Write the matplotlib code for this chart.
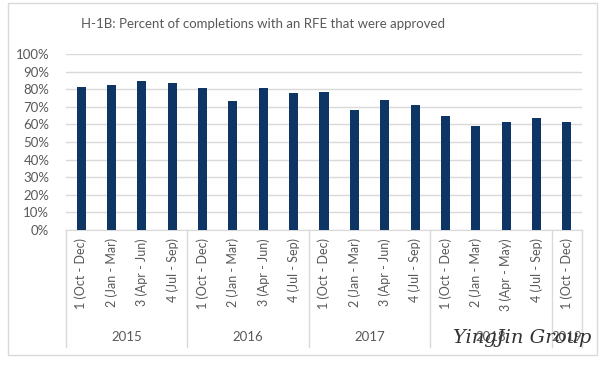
import matplotlib
matplotlib.use("Agg")
from matplotlib import pyplot as plt
from matplotlib.patches import Rectangle
from matplotlib.ticker import PercentFormatter

# Quarter labels and approval rates
quarters = ["1 (Oct - Dec)", "2 (Jan - Mar)", "3 (Apr - Jun)", "4 (Jul - Sep)",
            "1 (Oct - Dec)", "2 (Jan - Mar)", "3 (Apr - Jun)", "4 (Jul - Sep)",
            "1 (Oct - Dec)", "2 (Jan - Mar)", "3 (Apr - Jun)", "4 (Jul - Sep)",
            "1 (Oct - Dec)", "2 (Jan - Mar)", "3 (Apr - May)", "4 (Jul - Sep)",
            "1 (Oct - Dec)"]
approved = [81.5, 82.2, 84.8, 83.5, 80.7, 73.1, 80.7, 78.0, 78.6,
            68.2, 73.7, 71.0, 64.6, 59.1, 61.4, 63.5, 61.4]
years = ["2015", "2016", "2017", "2018", "2019"]
year_sizes = [4, 4, 4, 4, 1]

plt.rcParams['font.family'] = ['Lato', 'DejaVu Sans']
W, H = 601, 368
fig = plt.figure(figsize=(W / 100, H / 100), dpi=100)

# light chart border like the Excel chart area
fig.patches.append(Rectangle((8 / W, 13 / H), 589 / W, 352 / H, transform=fig.transFigure,
                             fill=False, edgecolor='#D9D9D9', linewidth=1))

ax = fig.add_axes([66 / W, 138 / H, (582 - 66) / W, 176 / H])
x = list(range(len(approved)))
ax.bar(x, [v / 100 for v in approved], width=0.3, color='#0E3563', zorder=3)

ax.set_xlim(-0.5, len(approved) - 0.5)
ax.set_ylim(0, 1)
ax.set_yticks([i / 10 for i in range(11)])
ax.yaxis.set_major_formatter(PercentFormatter(1.0, decimals=0))
ax.tick_params(axis='y', length=0, labelsize=9.5, labelcolor='#595959', pad=12)
ax.set_xticks([])
ax.grid(axis='y', color='#D9D9D9', linewidth=1, zorder=0)
for s in ['top', 'right', 'left']:
    ax.spines[s].set_visible(False)
ax.spines['bottom'].set_color('#D9D9D9')

trans = ax.get_xaxis_transform()
# quarter labels
for i, q in enumerate(quarters):
    ax.text(i, -0.045, q, rotation=90, ha='center', va='top', fontsize=9,
            color='#595959', transform=trans)

# year groups with separators
start = 0
bounds = [-0.5]
for yr, n in zip(years, year_sizes):
    ax.text(start + (n - 1) / 2, -0.608, yr, ha='center', va='center', fontsize=9.5,
            color='#595959', transform=trans)
    start += n
    bounds.append(start - 0.5)
for b in bounds:
    ax.plot([b, b], [0, -0.665], color='#D9D9D9', linewidth=1, transform=trans,
            clip_on=False)

fig.text(263 / W, 1 - 24 / H, "H-1B: Percent of completions with an RFE that were approved",
         ha='center', va='center', fontsize=9.5, color='#595959')

# watermark
fig.text(522 / W, 1 - 338 / H, "YingJin Group", ha='center', va='center', fontsize=14,
         family='DejaVu Serif', style='italic', color='#333333')

plt.savefig('out.png', dpi=100)
